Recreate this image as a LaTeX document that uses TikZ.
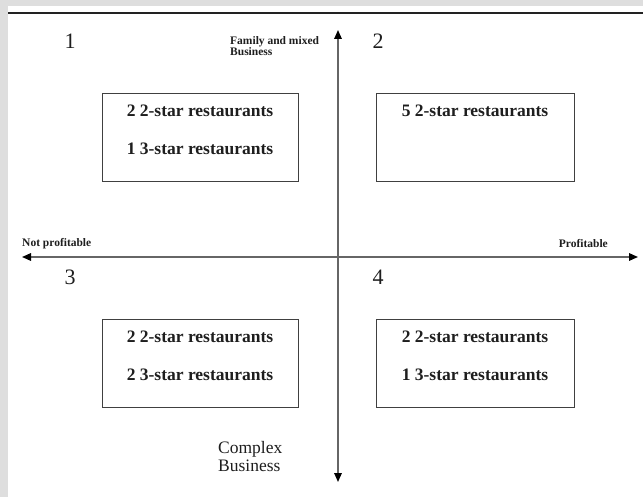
\documentclass[tikz,border=0pt]{standalone}
\usepackage{fontspec}
\setmainfont{Liberation Serif}
\usetikzlibrary{arrows.meta}
\definecolor{framegray}{HTML}{DEDEDE}
\definecolor{rulecolor}{HTML}{222222}
\definecolor{axisgray}{HTML}{666666}
\definecolor{boxgray}{HTML}{404040}
\definecolor{inkcolor}{HTML}{1E1E1E}
\begin{document}
\begin{tikzpicture}[x=1pt,y=-1pt,
  tip/.tip={Triangle[length=9pt,width=7.5pt,color=black]},
  axis/.style={draw=axisgray, line width=1.6pt, tip-tip},
  cell/.style={draw=boxgray, line width=1pt, fill=white,
    minimum width=196pt, minimum height=88pt, inner sep=0pt},
  celltext/.style={font=\fontsize{17.5}{20}\selectfont\bfseries, text=inkcolor,
    anchor=base, inner sep=0pt},
  quad/.style={font=\fontsize{22}{24}\selectfont, text=inkcolor,
    anchor=base, inner sep=0pt},
  tag/.style={font=\fontsize{11.5}{10}\selectfont\bfseries, text=inkcolor,
    inner sep=0pt},
  caption/.style={font=\fontsize{17.5}{18}\selectfont, text=inkcolor,
    anchor=base west, inner sep=0pt},
]
\useasboundingbox (0,0) rectangle (643,497);
% page frame and top rule
\fill[framegray] (0,0) rectangle (643,497);
\fill[white] (8,6) rectangle (643,497);
\draw[line width=2pt, rulecolor] (8,13) -- (643,13);

% axes
\coordinate (west)  at (22,257);
\coordinate (east)  at (638,257);
\coordinate (north) at (338,30);
\coordinate (south) at (338,482);
\draw[axis] (west) -- (east);
\draw[axis] (north) -- (south);

% quadrant numbers
\node[quad] (n1) at (70,49)  {1};
\node[quad] (n2) at (378,49) {2};
\node[quad] (n3) at (70,284) {3};
\node[quad] (n4) at (378,284) {4};

% axis labels
\node[tag, anchor=base west] (fam1) at (230,45) {Family and mixed};
\node[tag, anchor=base west] (fam2) at (230,56) {Business};
\node[tag, anchor=base west] (notp) at (22,247) {Not profitable};
\node[tag, anchor=base east] (prof) at (608,248) {Profitable};
\node[caption] (cx1) at (218,453) {Complex};
\node[caption] (cx2) at (218,471) {Business};

% quadrant boxes
\node[cell] (q1) at (200,138) {};
\node[cell, minimum width=198pt] (q2) at (475,138) {};
\node[cell, minimum height=87pt] (q3) at (200,363.5) {};
\node[cell, minimum width=198pt, minimum height=87pt] (q4) at (475,363.5) {};

\node[celltext, yshift=-23pt] (q1a) at (q1.north) {2 2-star restaurants};
\node[celltext, yshift=-61pt] (q1b) at (q1.north) {1 3-star restaurants};
\node[celltext, yshift=-23pt] (q2a) at (q2.north) {5 2-star restaurants};
\node[celltext, yshift=-23pt] (q3a) at (q3.north) {2 2-star restaurants};
\node[celltext, yshift=-61pt] (q3b) at (q3.north) {2 3-star restaurants};
\node[celltext, yshift=-23pt] (q4a) at (q4.north) {2 2-star restaurants};
\node[celltext, yshift=-61pt] (q4b) at (q4.north) {1 3-star restaurants};
\end{tikzpicture}
\end{document}
